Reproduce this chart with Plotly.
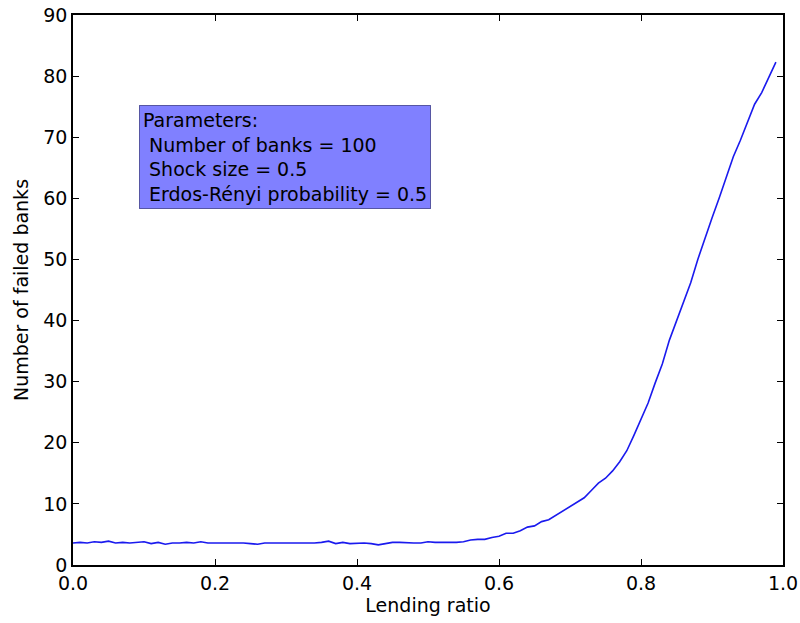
import plotly.graph_objects as go

lending_ratio = [round(i * 0.01, 2) for i in range(100)]
failed_banks = [
    3.6, 3.7, 3.6, 3.8, 3.7, 3.9, 3.6, 3.7, 3.6, 3.7,
    3.8, 3.5, 3.7, 3.4, 3.6, 3.6, 3.7, 3.6, 3.8, 3.6,
    3.6, 3.7, 3.6, 3.7, 3.6, 3.5, 3.4, 3.6, 3.6, 3.6,
    3.5, 3.6, 3.6, 3.5, 3.6, 3.7, 3.9, 3.5, 3.7, 3.5,
    3.6, 3.6, 3.5, 3.3, 3.5, 3.7, 3.7, 3.6, 3.6, 3.6,
    3.8, 3.7, 3.7, 3.6, 3.7, 3.8, 4.1, 4.2, 4.2, 4.5,
    4.7, 5.2, 5.2, 5.6, 6.2, 6.4, 7.1, 7.4, 8.1, 8.9,
    9.5, 10.2, 11.0, 12.2, 13.4, 14.2, 15.4, 16.9, 18.7, 21.2,
    23.9, 26.5, 29.8, 32.9, 36.8, 40.0, 43.0, 46.2, 50.0, 53.5,
    56.8, 60.0, 63.5, 66.8, 69.5, 72.5, 75.4, 77.3, 79.8, 82.3,
]
x_ticks = [0.0, 0.2, 0.4, 0.6, 0.8, 1.0]
y_ticks = [0, 10, 20, 30, 40, 50, 60, 70, 80, 90]

param_lines = [
    "Parameters:",
    "\u00a0Number of banks = 100",
    "\u00a0Shock size = 0.5",
    "\u00a0Erdos-Rényi probability = 0.5",
]

FONT = "DejaVu Sans"

fig = go.Figure()
fig.add_trace(go.Scatter(
    x=lending_ratio, y=failed_banks, mode="lines",
    line=dict(color="#1a1aee", width=1.6), showlegend=False,
))

axis_common = dict(
    showgrid=False, zeroline=False, showline=True, linecolor="black", linewidth=1.5,
    mirror="ticks", ticks="inside", ticklen=6, tickcolor="black", tickwidth=1,
    tickfont=dict(family=FONT, size=19, color="black"), automargin=False,
    ticklabeloverflow="allow",
)
fig.update_xaxes(range=[0, 1], tickvals=x_ticks, tickformat=".1f",
                 title=dict(text="Lending ratio", font=dict(family=FONT, size=19, color="black"), standoff=6),
                 **axis_common)
fig.update_yaxes(range=[0, 90], tickvals=y_ticks,
                 title=dict(text="Number of failed banks", font=dict(family=FONT, size=19, color="black"), standoff=10),
                 **axis_common)

fig.add_annotation(
    x=0.093, y=75.3, xref="x", yref="y", xanchor="left", yanchor="top",
    text="<br>".join(param_lines), showarrow=False, align="left",
    font=dict(family=FONT, size=19, color="black"),
    bgcolor="#8080ff", bordercolor="rgba(60,60,140,0.8)", borderwidth=1, borderpad=3,
)

fig.update_layout(
    width=800, height=623, paper_bgcolor="white", plot_bgcolor="white",
    margin=dict(l=73, r=17, t=15, b=58),
)
fig.write_html(
    "out.html",
    config={"displayModeBar": False},
    post_script="document.body.style.margin='0';document.body.style.overflow='hidden';",
)
